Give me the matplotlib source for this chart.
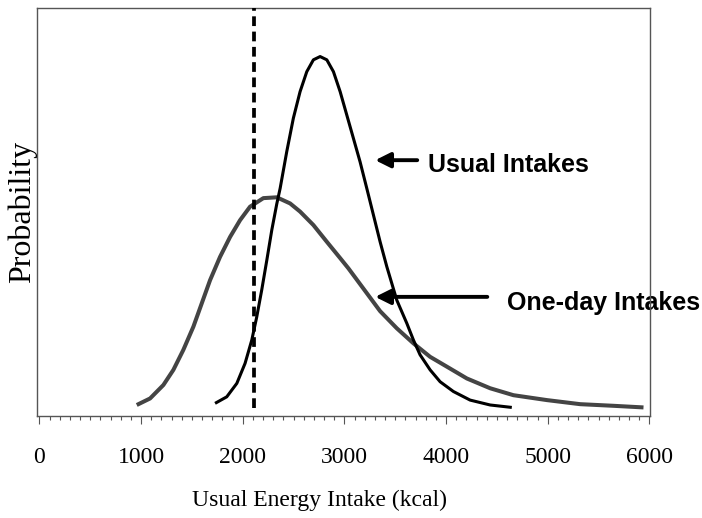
import matplotlib
matplotlib.use('Agg')
import matplotlib.pyplot as plt
from matplotlib.ticker import MultipleLocator

# Usual intakes (black curve): energy in kcal, relative probability
usual_kcal = [1728, 1843, 1942, 2023, 2089, 2138, 2187, 2237, 2286, 2335, 2368,
              2433, 2498, 2564, 2630, 2695, 2761, 2827, 2892, 2958, 3023, 3088,
              3154, 3220, 3285, 3351, 3417, 3515, 3614, 3679, 3744, 3843, 3941,
              4072, 4236, 4433, 4646]
usual_prob = [0.031, 0.047, 0.080, 0.129, 0.186, 0.243, 0.309, 0.382, 0.456, 0.520, 0.558,
              0.648, 0.730, 0.795, 0.844, 0.873, 0.881, 0.873, 0.844, 0.795, 0.738, 0.681,
              0.623, 0.558, 0.493, 0.427, 0.366, 0.284, 0.227, 0.186, 0.150, 0.113, 0.084,
              0.060, 0.039, 0.027, 0.021]

# One-day intakes (grey curve)
oneday_kcal = [958, 1089, 1220, 1318, 1416, 1515, 1597, 1679, 1777, 1876, 1974,
               2072, 2203, 2335, 2466, 2564, 2695, 2827, 2958, 3039, 3351,
               3515, 3679, 3843, 4007, 4204, 4433, 4662, 4991, 5318, 5646, 5941]
oneday_prob = [0.027, 0.043, 0.076, 0.113, 0.162, 0.219, 0.276, 0.333, 0.390, 0.439, 0.480,
               0.513, 0.534, 0.536, 0.521, 0.501, 0.468, 0.427, 0.387, 0.362, 0.257,
               0.215, 0.178, 0.145, 0.121, 0.092, 0.068, 0.051, 0.039, 0.029, 0.025, 0.021]

cutoff_kcal = 2110

plt.rcParams['lines.scale_dashes'] = False
serif = 'Liberation Serif'

fig = plt.figure(figsize=(7.02, 5.18), dpi=100)
ax = fig.add_axes([37.3 / 702, 102 / 518, 612.7 / 702, 408 / 518])

ax.plot(oneday_kcal, oneday_prob, color='#444444', lw=2.9, solid_capstyle='butt',
        solid_joinstyle='round', zorder=3)
ax.plot(usual_kcal, usual_prob, color='black', lw=2.2, solid_capstyle='butt',
        solid_joinstyle='round', zorder=4)
ax.plot([cutoff_kcal, cutoff_kcal], [0.02, 1.0], color='black', lw=2.7,
        dashes=(7, 4), zorder=5)

ax.set_xlim(-20, 6005)
ax.set_ylim(0, 1)

# labels with arrows
arrow = dict(arrowstyle='-|>,head_length=0.6,head_width=0.3', lw=2.8, color='black',
             mutation_scale=15, shrinkA=0, shrinkB=0)
ax.annotate('', xy=(3303, 0.627), xytext=(3716, 0.627), arrowprops=arrow, zorder=6)
ax.annotate('', xy=(3303, 0.292), xytext=(4405, 0.292), arrowprops=arrow, zorder=6)
ax.text(3823, 0.615, 'Usual Intakes', fontsize=18, fontweight='bold',
        family='Liberation Sans', va='center', ha='left', zorder=1)
ax.text(4600, 0.277, 'One-day Intakes', fontsize=18, fontweight='bold',
        family='Liberation Sans', va='center', ha='left', zorder=1, clip_on=False)

for s in ax.spines.values():
    s.set_color('#555555')
    s.set_linewidth(1.0)
    s.set_zorder(2.5)

ax.set_yticks([])
ax.xaxis.set_major_locator(MultipleLocator(1000))
ax.xaxis.set_minor_locator(MultipleLocator(100))
ax.tick_params(axis='x', which='major', direction='out', length=5.5, width=0.8,
               color='#555555', pad=17)
ax.tick_params(axis='x', which='minor', direction='out', length=3.2, width=0.8,
               color='#555555')
for lbl in ax.get_xticklabels():
    lbl.set_fontfamily(serif)
    lbl.set_fontsize(17)

fig.text(320 / 702, 1 - 500 / 518, 'Usual Energy Intake (kcal)', family=serif,
         fontsize=17, ha='center', va='center')
fig.text(22 / 702, 1 - 212 / 518, 'Probability', family=serif, fontsize=23,
         rotation=90, ha='center', va='center')

fig.savefig('out.png', dpi=100)
